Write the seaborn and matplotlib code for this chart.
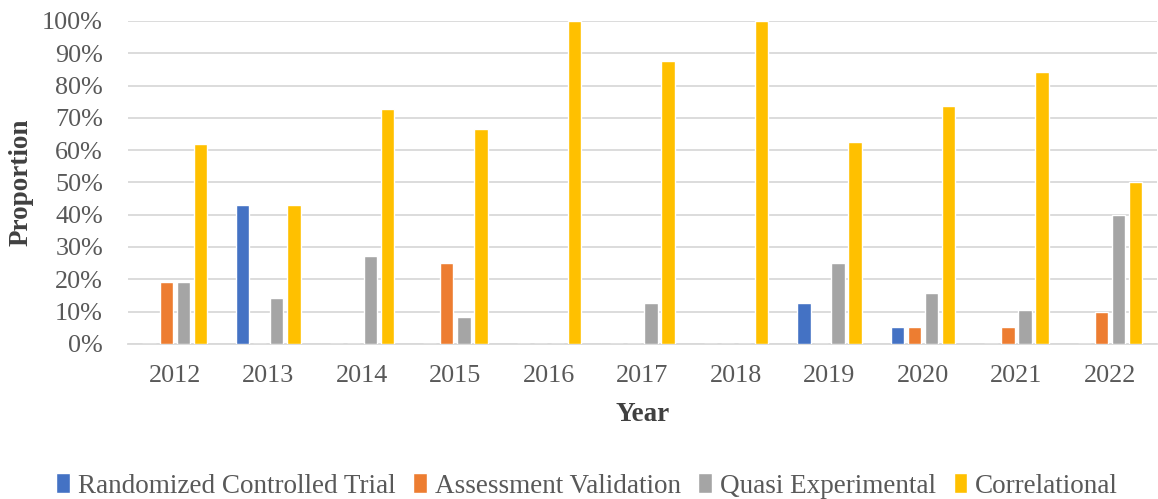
import matplotlib
matplotlib.use("Agg")
import matplotlib.pyplot as plt
import seaborn as sns
import pandas as pd
from matplotlib.ticker import PercentFormatter

years = ["2012", "2013", "2014", "2015", "2016", "2017", "2018", "2019", "2020", "2021", "2022"]
series = ["Randomized Controlled Trial", "Assessment Validation", "Quasi Experimental", "Correlational"]
rct = [0.0, 0.4286, 0.0, 0.0, 0.0, 0.0, 0.0, 0.125, 0.0526, 0.0, 0.0]
assess = [0.1905, 0.0, 0.0, 0.25, 0.0, 0.0, 0.0, 0.0, 0.0526, 0.0526, 0.10]
quasi = [0.1905, 0.1429, 0.2727, 0.0833, 0.0, 0.125, 0.0, 0.25, 0.1579, 0.1053, 0.40]
corr = [0.619, 0.4286, 0.7273, 0.6667, 1.0, 0.875, 1.0, 0.625, 0.7368, 0.8421, 0.50]
colors = ["#4472C4", "#ED7D31", "#A5A5A5", "#FFC000"]

rows = []
for name, vals in zip(series, [rct, assess, quasi, corr]):
    for y, v in zip(years, vals):
        rows.append({"Year": y, "Type": name, "Proportion": v})
df = pd.DataFrame(rows)

sns.set_style("white")
plt.rcParams["font.family"] = ["Liberation Serif", "DejaVu Serif"]

fig, ax = plt.subplots(figsize=(11.58, 4.99), dpi=100)
fig.subplots_adjust(left=0.1105, right=0.999, top=0.958, bottom=0.311)

sns.barplot(data=df, x="Year", y="Proportion", hue="Type", hue_order=series,
            order=years, palette=colors, width=0.73, gap=0.22, ax=ax,
            legend=True, saturation=1, zorder=3)

ax.set_ylim(0, 1.0)
ax.set_yticks([i / 10 for i in range(11)])
ax.yaxis.set_major_formatter(PercentFormatter(1.0, decimals=0))
ax.grid(axis="y", color="#D9D9D9", linewidth=1.3, zorder=0)
ax.set_axisbelow(True)
for s in ["top", "right", "left"]:
    ax.spines[s].set_visible(False)
ax.spines["bottom"].set_color("#D9D9D9")
ax.spines["bottom"].set_linewidth(1.3)
ax.tick_params(axis="both", length=0, labelsize=18.8, colors="#595959")
ax.tick_params(axis="x", pad=15)
ax.tick_params(axis="y", pad=18)
ax.set_xlim(-0.5, len(years) - 0.5)

ax.set_xlabel("Year", fontsize=19.5, fontweight="bold", color="#404040", labelpad=11)
ax.set_ylabel("Proportion", fontsize=19.5, fontweight="bold", color="#404040", labelpad=6)

handles, labels = ax.get_legend_handles_labels()
ax.get_legend().remove()
fig.legend(handles, labels, loc="center", bbox_to_anchor=(0.507, 1 - 486 / 499),
           ncol=4, frameon=False, fontsize=19.5, handlelength=0.5, handleheight=0.75,
           handletextpad=0.3, columnspacing=0.65, labelcolor="#595959")

fig.savefig("out.png", dpi=100)
